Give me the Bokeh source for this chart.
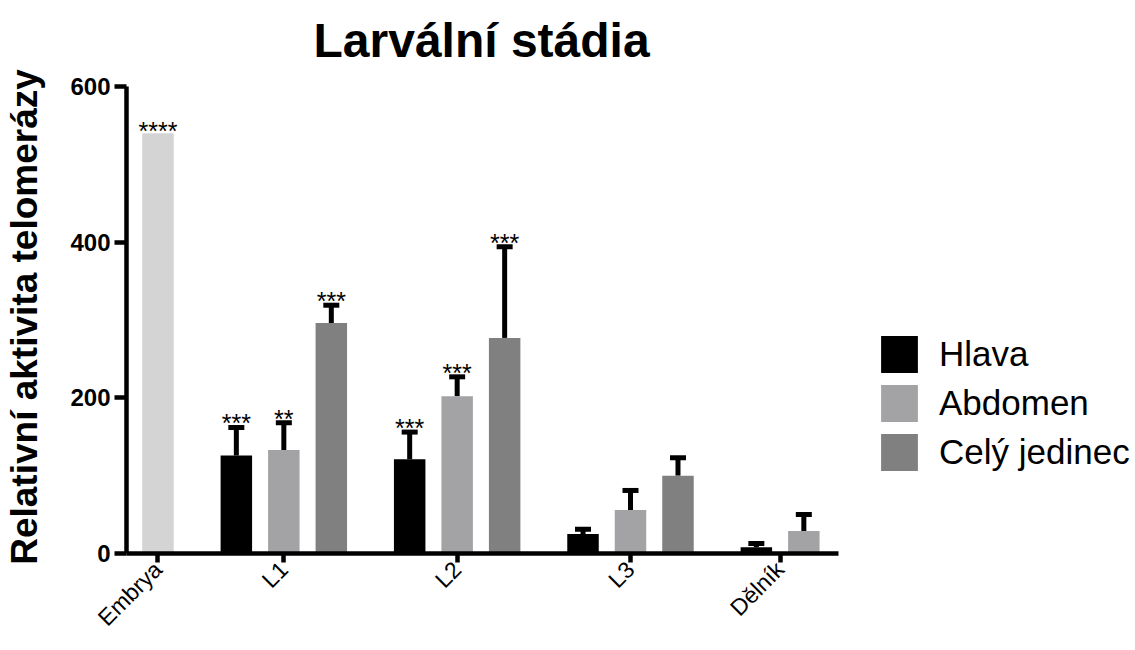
import math
from bokeh.plotting import figure
from bokeh.models import (ColumnDataSource, Whisker, TeeHead, Legend, LegendItem,
                          FixedTicker, Range1d)
from bokeh.core.properties import value
from bokeh.embed import file_html
from bokeh.resources import INLINE

# ---------------- data ----------------
groups = ["Embrya", "L1", "L2", "L3", "Dělník"]
series = ["Hlava", "Abdomen", "Celý jedinec"]

embrya_value = [540]
embrya_stars = ["****"]

stage_groups = ["L1", "L2", "L3", "Dělník"]
hlava = [126, 121, 25, 8]
hlava_err = [36, 35, 6, 5]
hlava_stars = ["***", "***", "", ""]

abdomen = [133, 202, 56, 29]
abdomen_err = [35, 25, 25, 21]
abdomen_stars = ["**", "***", "", ""]

cely = [296, 277, 100]
cely_err = [23, 117, 23]
cely_stars = ["***", "***", ""]

series_colors = ["#000000", "#a3a3a6", "#808080"]
embrya_color = "#d4d4d4"
y_ticks = [0, 200, 400, 600]
Y_MAX = 600

FONT = "Liberation Sans"

# ---------------- layout of bar slots ----------------
GAP = 0.65
BAR_W = 0.663
series_data = [
    (hlava, hlava_err, hlava_stars),
    (abdomen, abdomen_err, abdomen_stars),
    (cely, cely_err, cely_stars),
]
slot = {}
centers = []
xcur = 0.0
slot[("Embrya", "Embrya")] = xcur
centers.append(xcur)
for gi, g in enumerate(stage_groups):
    xcur += 1 + GAP
    xs = []
    first = True
    for si, (vals, errs, stars) in enumerate(series_data):
        if gi < len(vals):
            if not first:
                xcur += 1
            first = False
            slot[(g, series[si])] = xcur
            xs.append(xcur)
    centers.append(sum(xs) / len(xs))

# ---------------- figure geometry (pixels) ----------------
W, H = 1135, 645
AX_LEFT, AX_BOTTOM, AX_TOP = 126, 553, 86   # drawn axes
FRAME_TOP = 80                              # plot frame reaches a bit above the y axis
AX_PX_X = 712                               # drawn x axis length
AX_START, AX_END = -0.663, 14.33            # drawn x axis extent (slot units)
BL, BB, BT = AX_LEFT, H - AX_BOTTOM, FRAME_TOP
frame_w = W - BL
x_end = AX_START + frame_w * (AX_END - AX_START) / AX_PX_X
y_end = Y_MAX * (AX_BOTTOM - FRAME_TOP) / (AX_BOTTOM - AX_TOP)

p = figure(width=W, height=H, output_backend="svg", toolbar_location=None,
           x_range=Range1d(AX_START, x_end), y_range=Range1d(0, y_end),
           min_border_left=BL, min_border_right=0, min_border_top=BT,
           min_border_bottom=BB)
p.outline_line_color = None
p.grid.visible = False
p.background_fill_color = "white"

# Embrya bar
emb_src = ColumnDataSource(dict(x=[slot[("Embrya", "Embrya")]], top=embrya_value,
                                stars=embrya_stars))
p.vbar(x="x", top="top", width=BAR_W, source=emb_src, fill_color=embrya_color,
       line_color=None)
p.text(x="x", y="top", text="stars", source=emb_src, text_align="center",
       text_baseline="alphabetic", text_font_size="25px", y_offset=-2,
       text_font=value(FONT), text_color="black")

legend_items = []
for si, (vals, errs, stars) in enumerate(series_data):
    xs = [slot[(stage_groups[i], series[si])] for i in range(len(vals))]
    upper = [v + e for v, e in zip(vals, errs)]
    src = ColumnDataSource(dict(x=xs, top=vals, upper=upper, stars=stars))
    r = p.vbar(x="x", top="top", width=BAR_W, source=src,
               fill_color=series_colors[si], line_color=None)
    legend_items.append(LegendItem(label=series[si], renderers=[r]))
    w = Whisker(base="x", lower="top", upper="upper", source=src,
                line_color="black", line_width=5,
                upper_head=TeeHead(size=16, line_width=5, line_color="black"),
                lower_head=None)
    p.add_layout(w)
    p.text(x="x", y="upper", text="stars", source=src, text_align="center",
           text_baseline="alphabetic", text_font_size="25px", y_offset=-4,
           text_font=value(FONT), text_color="black")

# ---------------- axes ----------------
for ax in (p.xaxis[0], p.yaxis[0]):
    ax.axis_line_width = 4.5
    ax.axis_line_color = "black"
    ax.major_tick_line_width = 4.5
    ax.major_tick_line_color = "black"
    ax.major_tick_in = 0
    ax.minor_tick_line_color = None
    ax.major_label_text_font = FONT
    ax.major_label_text_color = "black"

p.yaxis.bounds = (0, Y_MAX)
p.yaxis.ticker = FixedTicker(ticks=y_ticks)
p.yaxis.major_tick_out = 12
p.yaxis.major_label_text_font_size = "24px"
p.yaxis.major_label_text_font_style = "bold"
p.yaxis.major_label_standoff = 4
p.yaxis.axis_label = "Relativní aktivita telomerázy"
p.yaxis.axis_label_text_font = FONT
p.yaxis.axis_label_text_font_size = "37px"
p.yaxis.axis_label_text_font_style = "bold"
p.yaxis.axis_label_text_color = "black"
p.yaxis.axis_label_standoff = 22

p.xaxis.bounds = (AX_START, AX_END)
p.xaxis.ticker = FixedTicker(ticks=centers)
p.xaxis.major_label_overrides = {c: g for c, g in zip(centers, groups)}
p.xaxis.major_tick_out = 9
p.xaxis.major_label_text_font_size = "23px"
p.xaxis.major_label_orientation = math.pi / 4
p.xaxis.major_label_standoff = 3

# chart title
p.title.text = "Larvální stádia"
p.title.align = "left"
p.title.offset = 187
p.title.vertical_align = "top"
p.title.standoff = 24
p.title.text_font = FONT
p.title.text_font_size = "48px"
p.title.text_font_style = "bold"
p.title.text_color = "black"

# legend, right of the drawn x axis
legend = Legend(items=legend_items, location=(750, 78), border_line_alpha=0,
                background_fill_alpha=0, padding=0, margin=0, spacing=3,
                glyph_height=46, glyph_width=46, label_standoff=17,
                label_text_font_size="35px", label_text_font=FONT,
                label_text_color="black", label_height=46)
p.add_layout(legend, "center")

open("out.html", "w").write(file_html(p, INLINE))
